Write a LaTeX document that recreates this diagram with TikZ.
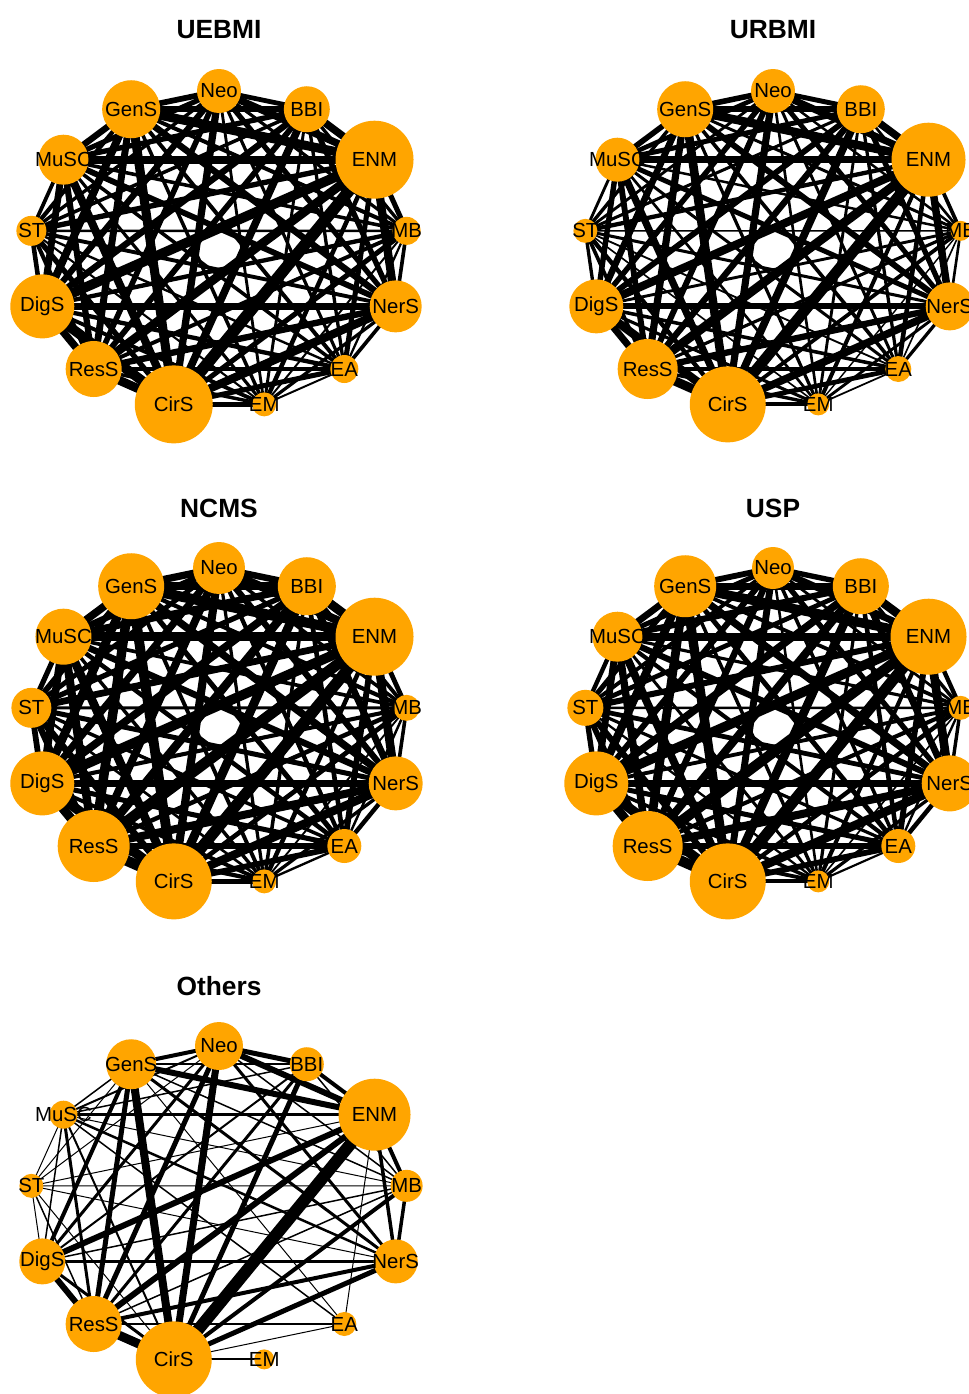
\documentclass[tikz,border=0pt]{standalone}
\usepackage{fontspec}
\setmainfont{Liberation Sans}
\usetikzlibrary{backgrounds}
\definecolor{netorange}{HTML}{FFA500}
\tikzset{
	x=0.02cm, y=-0.02cm,
	vtx/.style={circle, fill=netorange, inner sep=0pt, minimum size=#1*0.04cm},
	every label/.style={font=\fontsize{11.6}{12}\selectfont, inner sep=0pt, text=black},
	paneltitle/.style={font=\fontsize{15}{16}\selectfont\bfseries},
	tie/.style={draw=black, line width=#1*0.569pt},
}
\newcommand{\netnames}{Neo,BBI,ENM,MB,NerS,EA,EM,CirS,ResS,DigS,ST,MuSC,GenS}

% vertices of one panel on an ellipse: prefix, centre x, centre y, name/radius list
\newcommand{\placeverts}[4]{%
	\foreach \nm/\rr [count=\i from 0] in {#4} {
		\pgfmathsetmacro{\ang}{90-\i*360/13}
		\node[vtx=\rr, label=center:\nm] (#1-\nm) at ({#2+189*cos(\ang)},{#3-159*sin(\ang)}) {};
		\expandafter\xdef\csname rad#1\nm\endcsname{\rr}
	}%
}
% every pair joined, width from the two vertex sizes
\newcommand{\fullties}[1]{%
	\foreach \a [count=\i] in \netnames {
		\foreach \b [count=\j] in \netnames {
			\ifnum\j>\i
				\pgfmathsetmacro{\w}{11.5*(\csname rad#1\a\endcsname*\csname rad#1\b\endcsname/1521)^0.8}
				\draw[tie=\w] (#1-\a.center) -- (#1-\b.center);
			\fi
		}
	}%
}

\begin{document}
\begin{tikzpicture}
	\useasboundingbox (0,0) rectangle (968,1394);
	\begin{pgfonlayer}{background}
		\fill[white] (0,0) rectangle (968,1394);
	\end{pgfonlayer}

	% UEBMI
	\node[paneltitle] (t-u) at (219,30) {UEBMI};
	\placeverts{u}{219}{250}{Neo/22,BBI/23,ENM/39,MB/14,NerS/26,EA/14,EM/12,CirS/39,ResS/28,DigS/32,ST/15,MuSC/25,GenS/29}
	\begin{pgfonlayer}{background}
		\fullties{u}
	\end{pgfonlayer}

	% URBMI
	\node[paneltitle] (t-r) at (773,30) {URBMI};
	\placeverts{r}{773}{250}{Neo/22,BBI/24,ENM/37,MB/10,NerS/24,EA/13,EM/11,CirS/38,ResS/30,DigS/27,ST/12,MuSC/22,GenS/28}
	\begin{pgfonlayer}{background}
		\fullties{r}
	\end{pgfonlayer}

	% NCMS
	\node[paneltitle] (t-n) at (219,508) {NCMS};
	\placeverts{n}{219}{727}{Neo/26,BBI/29,ENM/39,MB/13,NerS/27,EA/17,EM/12,CirS/38,ResS/36,DigS/32,ST/20,MuSC/28,GenS/33}
	\begin{pgfonlayer}{background}
		\fullties{n}
	\end{pgfonlayer}

	% USP
	\node[paneltitle] (t-s) at (773,508) {USP};
	\placeverts{s}{773}{727}{Neo/21,BBI/28,ENM/38,MB/12,NerS/28,EA/17,EM/11,CirS/38,ResS/35,DigS/32,ST/18,MuSC/25,GenS/31}
	\begin{pgfonlayer}{background}
		\fullties{s}
	\end{pgfonlayer}

	% Others
	\node[paneltitle] (t-o) at (219,986) {Others};
	\placeverts{o}{219}{1205}{Neo/24,BBI/17,ENM/36,MB/16,NerS/22,EA/12,EM/10,CirS/38,ResS/28,DigS/23,ST/12,MuSC/14,GenS/25}
	\begin{pgfonlayer}{background}
		\foreach \a/\b/\w in {Neo/BBI/5, Neo/ENM/6, Neo/GenS/4, Neo/CirS/7, Neo/ResS/5,
			Neo/DigS/3, Neo/MuSC/2, Neo/NerS/3, Neo/MB/1.5, Neo/ST/1,
			BBI/ENM/4, BBI/GenS/2, BBI/CirS/5, BBI/ResS/3, BBI/MuSC/1.5, BBI/DigS/2, BBI/MB/1.5,
			ENM/GenS/6, ENM/MuSC/3, ENM/MB/4, ENM/NerS/3.5, ENM/EA/1, ENM/CirS/12,
			ENM/ResS/6, ENM/DigS/6, ENM/ST/1,
			MB/NerS/3.5, MB/CirS/4, MB/ResS/1.5, MB/DigS/1.5, MB/ST/1, MB/MuSC/1, MB/GenS/1.5,
			NerS/CirS/5, NerS/ResS/4, NerS/DigS/3, NerS/MuSC/2.5, NerS/ST/1, NerS/GenS/3,
			EA/CirS/1, EA/ResS/2, EA/MuSC/1.5, EA/GenS/1, EM/CirS/2,
			CirS/ResS/9, CirS/GenS/8, CirS/DigS/3, CirS/MuSC/2, CirS/ST/1,
			ResS/DigS/6, ResS/GenS/5, ResS/MuSC/3, ResS/ST/1.5,
			DigS/GenS/4, DigS/MuSC/1.5, DigS/ST/1, ST/MuSC/1, ST/GenS/1, MuSC/GenS/1.5}
			\draw[tie=\w] (o-\a.center) -- (o-\b.center);
	\end{pgfonlayer}
\end{tikzpicture}
\end{document}
